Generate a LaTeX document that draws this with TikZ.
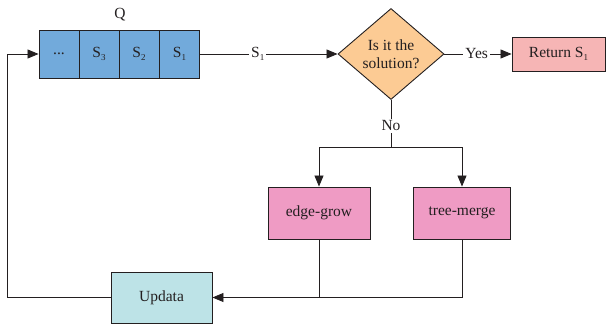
\documentclass[tikz,border=0pt]{standalone}
\usepackage{fontspec}
\setmainfont{Liberation Serif}
\usetikzlibrary{arrows.meta,shapes.geometric,calc}
\definecolor{qblue}{HTML}{72AADB}
\definecolor{dorange}{HTML}{FCCB94}
\definecolor{rpink}{HTML}{F6B5B5}
\definecolor{bpink}{HTML}{EF9BC4}
\definecolor{ucyan}{HTML}{BDE3E7}
\definecolor{ink}{HTML}{231F20}
\newcommand{\lowsub}[1]{\raisebox{-0.35ex}{\fontsize{9}{10}\selectfont #1}}
\begin{document}
\begin{tikzpicture}[x=1pt,y=-1pt,
  every node/.style={font=\fontsize{15.5}{18}\selectfont, text=ink},
  cell/.style={draw=ink, line width=0.9pt, fill=qblue, minimum width=40pt, minimum height=48pt, inner sep=0pt},
  box/.style={draw=ink, line width=0.9pt, inner sep=0pt},
  conn/.style={draw=ink, line width=0.8pt},
  arr/.style={conn, -{Triangle[length=11pt,width=9pt]}},
  lab/.style={fill=white, inner sep=2pt}]
\useasboundingbox (0,0) rectangle (610,328);
% queue
\node[cell] (c4) at (59,54) {...};
\node[cell] (c3) at (99,54) {S\lowsub{3}};
\node[cell] (c2) at (139,54) {S\lowsub{2}};
\node[cell] (c1) at (179.5,54) {S\lowsub{1}};
\node (q) at (120,15) {Q};
% decision
\node[box, diamond, fill=dorange, minimum width=106pt, minimum height=91pt, align=center, font=\fontsize{15.5}{18}\selectfont] (d) at (391,54) {Is it the\\solution?};
\node[box, fill=rpink, minimum width=93pt, minimum height=34pt] (r) at (558.5,54) {Return S\lowsub{1}};
% branches
\node[box, fill=bpink, minimum width=102pt, minimum height=52pt] (eg) at (319,213) {edge-grow};
\node[box, fill=bpink, minimum width=97pt, minimum height=52pt] (tm) at (462,213) {tree-merge};
\node[box, fill=ucyan, minimum width=101pt, minimum height=51pt] (u) at (161.5,297.5) {Updata};
\coordinate (j) at (391,147);
% connectors
\draw[arr] (c1.east) -- node[lab, pos=0.42] (s1) {S\lowsub{1}} (d.west);
\draw[arr] (d.east) -- node[lab, pos=0.48] (yes) {Yes} (r.west);
\draw[conn] (d.south) -- node[lab, pos=0.55] (no) {No} (j);
\draw[arr] (j) -| (eg.north);
\draw[arr] (j) -| (tm.north);
\draw[arr] (tm.south) |- (u.east);
\draw[conn] (eg.south) -- (eg.south |- u.east);
\draw[arr] (u.west) -- ++(-103,0) |- (c4.west);
\end{tikzpicture}
\end{document}
